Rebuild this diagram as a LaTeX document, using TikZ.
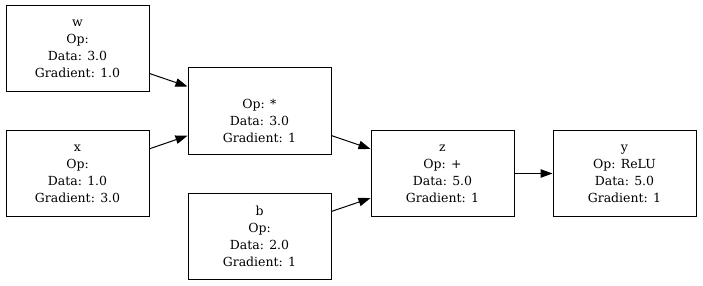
\documentclass[tikz,border=0pt]{standalone}
\usepackage{fontspec}
\setmainfont{DejaVu Serif}
\usetikzlibrary{arrows.meta}

\begin{document}
\begin{tikzpicture}[x=1pt, y=-1pt,
    every node/.style={font=\fontsize{12.5}{17}\selectfont},
    valbox/.style={draw, line width=1pt, minimum width=143pt, minimum height=86pt, align=center, inner sep=0pt},
    edge/.style={-{Triangle[length=12pt,width=8.5pt]}, line width=1pt}]
    % Page size
    \useasboundingbox (0,0) rectangle (703,286);

    % Leaf values
    \node[valbox] (w) at (77.5,49) {w\\Op:\\Data: 3.0\\Gradient: 1.0};
    \node[valbox] (x) at (77.5,173.5) {x\\Op:\\Data: 1.0\\Gradient: 3.0};
    \node[valbox] (b) at (259.5,236) {b\\Op:\\Data: 2.0\\Gradient: 1};

    % Operations
    \node[valbox] (mul) at (259.5,111) {\strut\\Op: *\\Data: 3.0\\Gradient: 1};
    \node[valbox] (z) at (442.5,173.5) {z\\Op: +\\Data: 5.0\\Gradient: 1};
    \node[valbox] (y) at (624.5,173.5) {y\\Op: ReLU\\Data: 5.0\\Gradient: 1};

    % Edges
    \draw[edge] (w) -- (mul);
    \draw[edge] (x) -- (mul);
    \draw[edge] (mul) -- (z);
    \draw[edge] (b) -- (z);
    \draw[edge] (z) -- (y);
\end{tikzpicture}
\end{document}
